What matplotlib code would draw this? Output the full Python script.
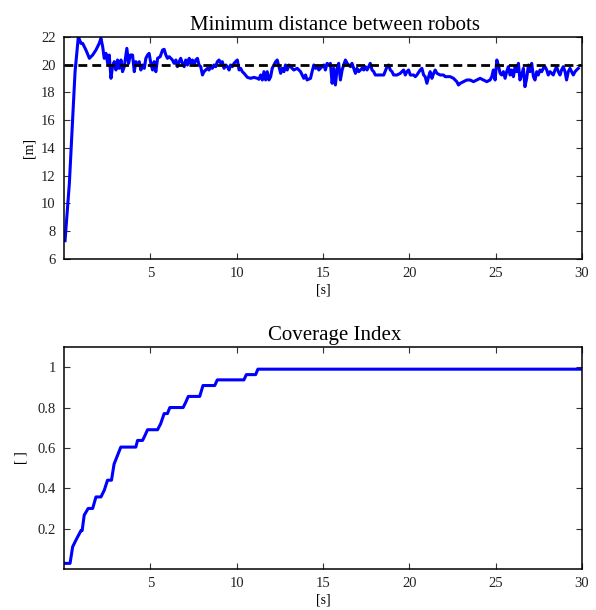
import matplotlib
matplotlib.use("Agg")
import matplotlib.pyplot as plt

plt.rcParams['font.family'] = ['Liberation Serif', 'DejaVu Serif']

# --- Minimum distance between robots ---
dist_t = [0.06, 0.31, 0.64, 0.83, 0.98, 1.08, 1.27, 1.47, 1.66, 1.85, 2.04, 2.14, 2.24, 2.33, 2.43,
          2.53, 2.62, 2.72, 2.81, 2.91, 3.01, 3.10, 3.20, 3.30, 3.39, 3.49, 3.64, 3.74, 3.84, 3.97,
          4.07, 4.16, 4.26, 4.36, 4.45, 4.55, 4.65, 4.74, 4.84, 4.93, 5.03, 5.13, 5.22, 5.32, 5.42,
          5.57, 5.71, 5.80, 5.90, 5.99, 6.09, 6.19, 6.28, 6.38, 6.48, 6.57, 6.67, 6.76, 6.86, 6.96,
          7.05, 7.15, 7.25, 7.34, 7.44, 7.54, 7.63, 7.73, 7.82, 7.92, 8.02, 8.11, 8.21, 8.31, 8.40,
          8.50, 8.59, 8.69, 8.79, 8.88, 8.98, 9.08, 9.17, 9.27, 9.37, 9.46, 9.56, 9.65, 9.75, 9.85,
          9.94, 10.04, 10.14, 10.23, 10.33, 10.43, 10.62, 10.81, 11.00, 11.20, 11.29, 11.39, 11.49,
          11.58, 11.68, 11.77, 11.87, 11.97, 12.06, 12.16, 12.26, 12.35, 12.45, 12.55, 12.64, 12.74,
          12.83, 12.93, 13.03,
          13.12, 13.31, 13.51, 13.70, 13.89, 13.99, 14.08, 14.28, 14.37, 14.47, 14.57, 14.66, 14.76,
          14.85, 14.95, 15.05, 15.14, 15.24, 15.34, 15.43, 15.53, 15.62, 15.72, 15.82, 15.91, 16.01,
          16.11, 16.20, 16.30, 16.40, 16.49, 16.59, 16.68, 16.78, 16.88, 16.97, 17.07, 17.17, 17.26,
          17.36, 17.46, 17.55, 17.65, 17.74, 17.84, 17.94, 18.03, 18.32, 18.52, 18.71, 18.80, 18.90,
          19.00, 19.09, 19.29, 19.48, 19.57, 19.67, 19.77, 19.86, 19.96, 20.06, 20.25, 20.35, 20.44,
          20.63, 20.73, 20.83, 20.92, 21.02, 21.12, 21.21, 21.31, 21.41, 21.50, 21.60, 21.79, 21.98,
          22.08, 22.18, 22.37, 22.56, 22.75, 22.85, 22.95, 23.14, 23.33, 23.52, 23.72, 23.91, 24.10,
          24.30, 24.49, 24.68, 24.78, 24.87, 24.97, 25.07, 25.16, 25.26, 25.35, 25.45, 25.55, 25.64,
          25.74, 25.84, 25.93, 26.03, 26.13, 26.22, 26.32, 26.41, 26.51, 26.61, 26.70, 26.80, 26.90,
          26.99, 27.09, 27.19, 27.28, 27.38, 27.47, 27.57, 27.67, 27.76, 27.86, 27.96, 28.05, 28.15,
          28.25, 28.34, 28.44, 28.53, 28.63, 28.73, 28.82, 28.92, 29.02, 29.11, 29.21, 29.31, 29.40,
          29.50, 29.60, 29.69, 29.79]
dist_v = [7.32, 11.45, 19.50, 22.02, 21.54, 21.54, 21.06, 20.46, 20.70, 21.06, 21.54, 21.90, 21.30, 20.46, 20.82,
          20.10, 20.70, 19.02, 19.86, 20.22, 19.62, 20.34, 19.74, 20.34, 19.50, 19.86, 21.18, 20.10, 20.70, 20.70,
          19.50, 20.22, 19.98, 20.22, 19.62, 19.98, 19.74, 20.46, 20.70, 20.82, 20.10, 19.62, 20.22, 19.50, 20.46,
          20.58, 21.06, 21.11, 20.70, 20.46, 20.58, 20.46, 20.34, 20.10, 20.34, 19.86, 20.22, 20.46, 20.10, 19.86,
          20.34, 19.98, 20.46, 20.10, 20.34, 19.98, 20.34, 20.46, 19.98, 19.86, 19.26, 19.50, 19.62, 19.74, 19.62,
          19.86, 19.74, 19.98, 19.86, 20.22, 20.34, 20.10, 20.22, 19.74, 19.98, 19.86, 19.62, 19.98, 19.86, 20.10,
          20.22, 20.34, 19.62, 19.74, 19.50, 19.38, 19.09, 19.02, 19.09, 19.02, 18.95, 19.26, 18.90,
          19.50, 18.90, 19.50, 18.90, 19.14, 19.74, 19.98, 20.22, 20.34, 19.86, 19.38, 19.74, 19.50,
          19.98, 19.62, 19.98,
          19.86, 19.62, 19.74, 19.50, 19.02, 19.26, 18.90, 19.02, 19.50, 19.98, 19.74, 19.86, 19.62,
          19.74, 19.86, 19.98, 19.62, 20.10, 19.98, 20.10, 18.66, 19.74, 18.54, 19.74, 20.10, 18.90,
          19.62, 19.98, 20.34, 20.10, 19.98, 19.86, 20.10, 19.74, 19.38, 19.74, 19.50, 19.62, 19.74,
          19.62, 19.86, 19.62, 19.86, 20.10, 19.62, 19.50, 19.26, 19.26, 19.26, 19.86, 19.98, 19.62,
          19.50, 19.26, 19.26, 19.38, 19.50, 19.62, 19.26, 19.50, 19.62, 19.26, 19.26, 19.14, 19.26,
          19.62, 19.74, 19.26, 19.14, 18.66, 19.14, 19.50, 19.02, 19.38, 19.62, 19.38, 19.26, 19.26,
          19.14, 19.14, 19.14, 19.02, 18.78, 18.54, 18.66, 18.78, 18.90, 18.90, 18.78, 18.90, 19.02,
          18.90, 18.78, 18.90, 19.14, 19.62, 18.90, 20.34, 19.98, 19.38, 19.26, 19.50, 19.02, 19.50,
          19.86, 19.26, 19.62, 19.14, 19.86, 19.50, 20.10, 18.90, 19.26, 19.74, 18.42, 19.02, 19.98,
          19.50, 20.10, 19.14, 18.90, 19.50, 19.26, 19.62, 19.50, 19.74, 19.86, 19.62, 19.26, 19.50,
          19.38, 19.26, 19.62, 19.86, 19.50, 19.26, 19.62, 19.86, 19.50, 18.90, 19.50, 19.74, 19.50,
          19.26, 19.50, 19.62, 19.74]
ref_distance = 20.0

# --- Coverage index (step-like) ---
cov_t = [0.0, 0.35, 0.5, 0.69, 0.98, 1.05, 1.17, 1.4, 1.66, 1.85, 2.14, 2.33, 2.52, 2.75, 2.9,
         3.29, 4.16, 4.26, 4.55, 4.68, 4.84, 5.42, 5.6, 5.8, 5.99, 6.13, 6.9, 7.05, 7.2, 7.86,
         8.05, 8.73, 8.88, 10.42, 10.56, 11.1, 11.23, 30.0]
cov_v = [0.028, 0.028, 0.11, 0.143, 0.19, 0.19, 0.267, 0.30, 0.30, 0.357, 0.357, 0.39, 0.44, 0.44, 0.52,
         0.604, 0.604, 0.637, 0.637, 0.66, 0.69, 0.69, 0.72, 0.77, 0.77, 0.80, 0.80, 0.826, 0.855, 0.855,
         0.909, 0.909, 0.937, 0.937, 0.963, 0.963, 0.99, 0.99]

x_ticks = [5, 10, 15, 20, 25, 30]
dist_yticks = [6, 8, 10, 12, 14, 16, 18, 20, 22]
cov_yticks = [0.2, 0.4, 0.6, 0.8, 1.0]
cov_yticklabels = ['0.2', '0.4', '0.6', '0.8', '1']

fig = plt.figure(figsize=(5.96, 6.10), dpi=100)
ax1 = fig.add_axes([0.1074, 0.5754, 0.869, 0.364])
ax2 = fig.add_axes([0.1074, 0.0672, 0.869, 0.364])

blue = '#0000ff'
ax1.plot(dist_t, dist_v, color=blue, lw=2.2, solid_joinstyle='round')
ax1.axhline(ref_distance, color='black', lw=2.0, ls=(0, (3.2, 1.8)))
ax1.set_xlim(0, 30)
ax1.set_ylim(6, 22)
ax1.set_yticks(dist_yticks)
ax1.set_title('Minimum distance between robots', fontsize=15, pad=5, x=0.523)
ax1.set_xlabel('[s]', fontsize=10, labelpad=2)
ax1.set_ylabel('[m]', fontsize=10, labelpad=4)

ax2.plot(cov_t, cov_v, color=blue, lw=2.2, solid_joinstyle='round')
ax2.set_xlim(0, 30)
ax2.set_ylim(0, 1.1)
ax2.set_yticks(cov_yticks)
ax2.set_yticklabels(cov_yticklabels)
ax2.set_title('Coverage Index', fontsize=15, pad=5, x=0.523)
ax2.set_xlabel('[s]', fontsize=10, labelpad=2)
ax2.set_ylabel('[ ]', fontsize=10, labelpad=7)

for ax in (ax1, ax2):
    ax.set_xticks(x_ticks)
    ax.tick_params(direction='in', top=True, right=True, length=4, width=0.8,
                   labelsize=10.5, colors='#333333', labelcolor='#222222', pad=6)
    for s in ax.spines.values():
        s.set_linewidth(1.1)
        s.set_color('black')

fig.savefig('out.png', dpi=100)
